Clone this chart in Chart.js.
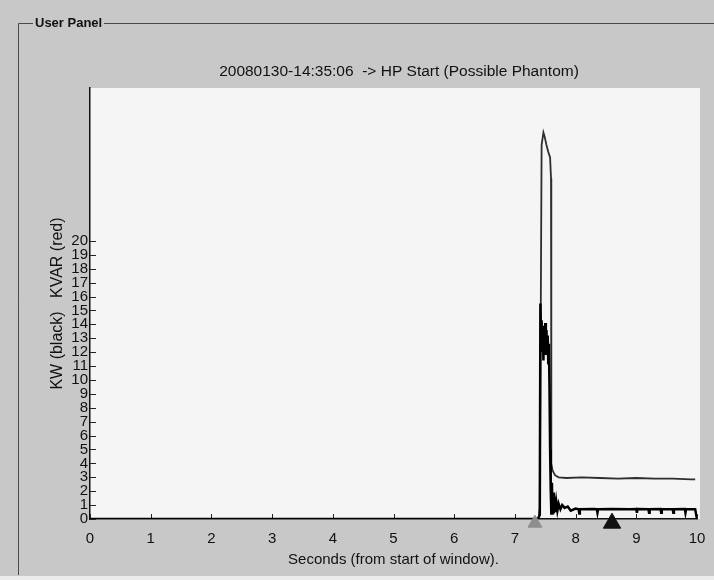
<!DOCTYPE html>
<html>
<head>
<meta charset="utf-8">
<script src="https://cdn.jsdelivr.net/npm/chart.js@4.4.1/dist/chart.umd.min.js"></script>
<style>
  html, body { margin: 0; padding: 0; background: #c8c8c8; }
  canvas { display: block; }
</style>
</head>
<body>
<canvas id="panel" width="714" height="580"></canvas>
<script>
// KW trace (black): flat, then the start surge, then the settled running load
const kwSeconds = [0, 7.38, 7.41, 7.42, 7.43, 7.44, 7.45, 7.46, 7.47, 7.48, 7.49, 7.50, 7.51,
  7.52, 7.53, 7.54, 7.55, 7.56, 7.57, 7.58, 7.59, 7.60, 7.61, 7.62, 7.63, 7.64, 7.65, 7.66,
  7.68, 7.70, 7.72, 7.75, 7.78, 7.82, 7.87, 7.92, 8.00, 8.05, 8.06, 8.07, 8.30, 8.35, 8.36,
  8.37, 8.60, 8.90, 9.00, 9.01, 9.02, 9.20, 9.21, 9.22, 9.40, 9.41, 9.42, 9.60, 9.61, 9.62,
  9.80, 9.81, 9.82, 9.97, 10.0];
const kwValues = [0, 0, 0.3, 15.5, 13.2, 14.3, 12.1, 13.8, 11.4, 13.9, 12.3, 14.1, 11.8,
  13.6, 12.0, 13.2, 11.2, 12.6, 9.5, 5.0, 2.2, 0.4, 2.6, 0.3, 1.9, 0.4, 1.6, 0.5,
  1.3, 0.6, 1.1, 0.7, 1.0, 0.8, 0.9, 0.6, 0.75, 0.7, 0.4, 0.7, 0.72, 0.7, 0.45,
  0.7, 0.72, 0.7, 0.72, 0.45, 0.72, 0.7, 0.45, 0.7, 0.72, 0.45, 0.7, 0.7, 0.45, 0.7,
  0.72, 0.45, 0.7, 0.7, 0];

// KVAR trace (red on the panel)
const kvarSeconds = [0, 7.39, 7.41, 7.44, 7.47, 7.49, 7.52, 7.55, 7.58, 7.595, 7.60, 7.62,
  7.66, 7.72, 7.85, 8.1, 8.4, 8.7, 9.0, 9.3, 9.6, 9.9, 9.97];
const kvarValues = [0, 0, 0.8, 26.9, 27.8, 27.5, 26.9, 26.4, 26.0, 24.5, 4.0, 3.5,
  3.15, 3.0, 2.95, 3.0, 2.95, 2.9, 2.95, 2.9, 2.9, 2.85, 2.85];

// event markers under the time axis
const markerSeconds = [7.33, 8.6];
const markerColors = ['#8e8e8e', '#111111'];
const markerSizes = [8, 10];

const xTicks = [0, 1, 2, 3, 4, 5, 6, 7, 8, 9, 10];
const yTicks = [0, 1, 2, 3, 4, 5, 6, 7, 8, 9, 10, 11, 12, 13, 14, 15, 16, 17, 18, 19, 20];

const panelTitle = '20080130-14:35:06  -> HP Start (Possible Phantom)';

const FONT = '"Liberation Sans", Arial, sans-serif';

function pairs(xs, ys) {
  return xs.map((x, i) => ({ x: x, y: ys[i] }));
}

const panelBackdrop = {
  id: 'panelBackdrop',
  beforeDraw(chart) {
    const { ctx, chartArea: a, width, height } = chart;
    ctx.save();
    ctx.fillStyle = '#c8c8c8';
    ctx.fillRect(0, 0, width, height);
    ctx.fillStyle = '#ececec';
    ctx.fillRect(0, 576, width, 4);

    // group box frame with its caption
    ctx.strokeStyle = '#4a4a4a';
    ctx.lineWidth = 1;
    ctx.beginPath();
    ctx.moveTo(33, 23.5);
    ctx.lineTo(18.5, 23.5);
    ctx.lineTo(18.5, 575);
    ctx.moveTo(104, 23.5);
    ctx.lineTo(width, 23.5);
    ctx.stroke();
    ctx.font = 'bold 13px ' + FONT;
    ctx.fillStyle = '#111';
    ctx.textBaseline = 'middle';
    ctx.fillText('User Panel', 35, 23);

    // heading, centred a little right of the plot like the panel does
    ctx.font = '15.5px ' + FONT;
    ctx.textAlign = 'center';
    ctx.fillText(panelTitle, 399, 72);

    // plot surface
    ctx.fillStyle = '#f5f5f5';
    ctx.fillRect(a.left, a.top, a.right - a.left + 3, a.bottom - a.top);
    ctx.restore();
  },
  beforeDatasetsDraw(chart) {
    // short inward tick marks on both axes
    const { ctx, scales: { x, y }, chartArea: a } = chart;
    ctx.save();
    ctx.strokeStyle = '#222';
    ctx.lineWidth = 1;
    ctx.beginPath();
    yTicks.forEach(v => {
      const py = Math.round(y.getPixelForValue(v)) + 0.5;
      ctx.moveTo(a.left, py);
      ctx.lineTo(a.left + 6, py);
    });
    xTicks.forEach(v => {
      const px = Math.round(x.getPixelForValue(v)) + 0.5;
      ctx.moveTo(px, a.bottom);
      ctx.lineTo(px, a.bottom - 5);
    });
    ctx.stroke();
    ctx.restore();
  }
};

new Chart(document.getElementById('panel'), {
  type: 'line',
  data: {
    datasets: [
      {
        label: 'markers',
        data: pairs(markerSeconds, markerSeconds.map(() => -0.3)),
        showLine: false,
        pointStyle: 'triangle',
        pointRadius: markerSizes,
        pointBackgroundColor: markerColors,
        pointBorderColor: markerColors,
        pointBorderWidth: 1,
        clip: false
      },
      {
        label: 'KW',
        data: pairs(kwSeconds, kwValues),
        borderColor: '#000000',
        borderWidth: 2.5,
        pointRadius: 0,
        tension: 0
      },
      {
        label: 'KVAR',
        data: pairs(kvarSeconds, kvarValues),
        borderColor: '#2e2e2e',
        borderWidth: 1.8,
        pointRadius: 0,
        tension: 0
      }
    ]
  },
  options: {
    responsive: false,
    animation: false,
    devicePixelRatio: 1,
    layout: { padding: { left: 44, right: 17, top: 88, bottom: 7 } },
    plugins: {
      legend: { display: false },
      tooltip: { enabled: false },
      title: { display: false }
    },
    scales: {
      x: {
        type: 'linear',
        min: 0,
        max: 10,
        afterBuildTicks: s => { s.ticks = xTicks.map(v => ({ value: v })); },
        afterFit: s => { s.height = 54; s.paddingRight = 0; },
        ticks: { autoSkip: false, maxRotation: 0, padding: 11, color: '#111', font: { family: FONT, size: 15 } },
        grid: { display: false, drawTicks: false },
        border: { display: true, color: '#111', width: 1.5 },
        title: {
          display: true,
          text: 'Seconds (from start of window).',
          color: '#111',
          font: { family: FONT, size: 15 }
        }
      },
      y: {
        min: 0,
        max: 31,
        afterBuildTicks: s => { s.ticks = yTicks.map(v => ({ value: v })); },
        afterFit: s => { s.width = 46; },
        ticks: { autoSkip: false, padding: 2, color: '#111', font: { family: FONT, size: 15 } },
        grid: { display: false, drawTicks: false },
        border: { display: true, color: '#111', width: 1.5 },
        title: {
          display: true,
          text: 'KW (black)   KVAR (red)',
          color: '#111',
          font: { family: FONT, size: 16 }
        }
      }
    }
  },
  plugins: [panelBackdrop]
});
</script>
</body>
</html>
